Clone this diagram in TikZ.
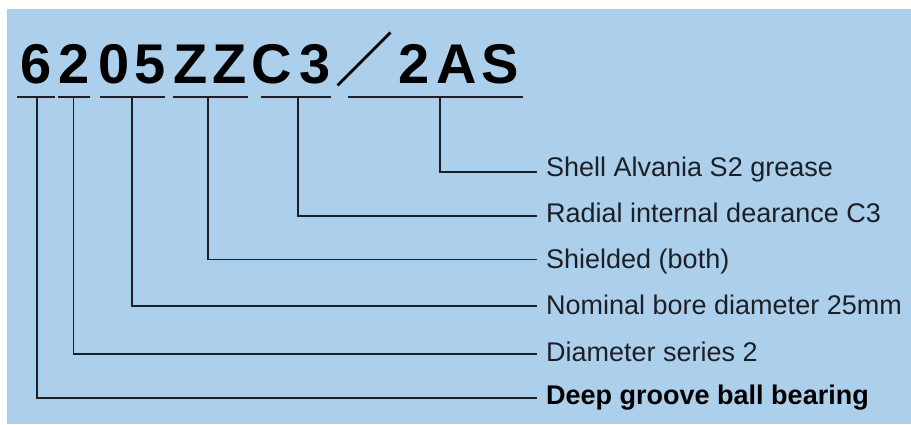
\documentclass[tikz,border=0pt]{standalone}
\usepackage{fontspec}
\setmainfont{Liberation Sans}
\newfontfamily\cjkfont{Noto Sans CJK JP}
\definecolor{bg}{RGB}{172,207,236}
\definecolor{ink}{RGB}{28,32,38}
\begin{document}
\begin{tikzpicture}[x=1pt,y=-1pt,
  big/.style={font=\fontsize{56}{56}\selectfont\bfseries, inner sep=0pt, anchor=base, text=black},
  slash/.style={font=\cjkfont\fontsize{58}{58}\selectfont\bfseries, inner sep=0pt, anchor=base, text=black},
  lbl/.style={font=\fontsize{27}{27}\selectfont, inner sep=0pt, anchor=base west, text=ink},
  lblb/.style={lbl, font=\fontsize{27}{27}\selectfont\bfseries, text=black},
  conn/.style={draw=ink, line width=1.8pt, line join=miter},
]
\useasboundingbox (0,0) rectangle (911,424);
\fill[bg] (7,9) rectangle (911,424);

% code characters
\node[big] (c1) at (36.3,83.3) {6};
\node[big] (c2) at (74,83.3) {2};
\node[big] (c3) at (114,83.3) {0};
\node[big] (c4) at (150,83.3) {5};
\node[big] (c5) at (191,83.3) {Z};
\node[big] (c6) at (230,83.3) {Z};
\node[big] (c7) at (271.7,83.3) {C};
\node[big] (c8) at (315,83.3) {3};
\node[slash] (c9) at (364,81) {／};
\node[big] (c10) at (414.5,83.3) {2};
\node[big] (c11) at (457,83.3) {A};
\node[big] (c12) at (500.5,83.3) {S};

% underline segments
\coordinate (u1a) at (17,97.3);  \coordinate (u1b) at (55,97.3);
\coordinate (u2a) at (58,97.3);  \coordinate (u2b) at (90,97.3);
\coordinate (u3a) at (100,97.3); \coordinate (u3b) at (165,97.3);
\coordinate (u4a) at (173,97.3); \coordinate (u4b) at (248,97.3);
\coordinate (u5a) at (261,97.3); \coordinate (u5b) at (331,97.3);
\coordinate (u6a) at (348,97.3); \coordinate (u6b) at (523,97.3);
\foreach \i in {1,...,6} { \draw[conn] (u\i a) -- (u\i b); }

% tap points
\coordinate (t1) at (37,97.3);
\coordinate (t2) at (73.5,97.3);
\coordinate (t3) at (132,97.3);
\coordinate (t4) at (208,97.3);
\coordinate (t5) at (298,97.3);
\coordinate (t6) at (440,97.3);

% line ends
\coordinate (e1) at (537,398);
\coordinate (e2) at (537,354);
\coordinate (e3) at (537,306);
\coordinate (e4) at (537,259.5);
\coordinate (e5) at (537,216);
\coordinate (e6) at (537,171.7);

\foreach \i in {1,...,6} { \draw[conn] (t\i) |- (e\i); }

% labels
\node[lbl] (l6) at (546,176) {Shell Alvania S2 grease};
\node[lbl] (l5) at (546,222) {Radial internal dearance C3};
\node[lbl] (l4) at (546,268.5) {Shielded (both)};
\node[lbl] (l3) at (546,314) {Nominal bore diameter 25mm};
\node[lbl] (l2) at (546,361.5) {Diameter series 2};
\node[lblb] (l1) at (546,404) {Deep groove ball bearing};
\end{tikzpicture}
\end{document}
